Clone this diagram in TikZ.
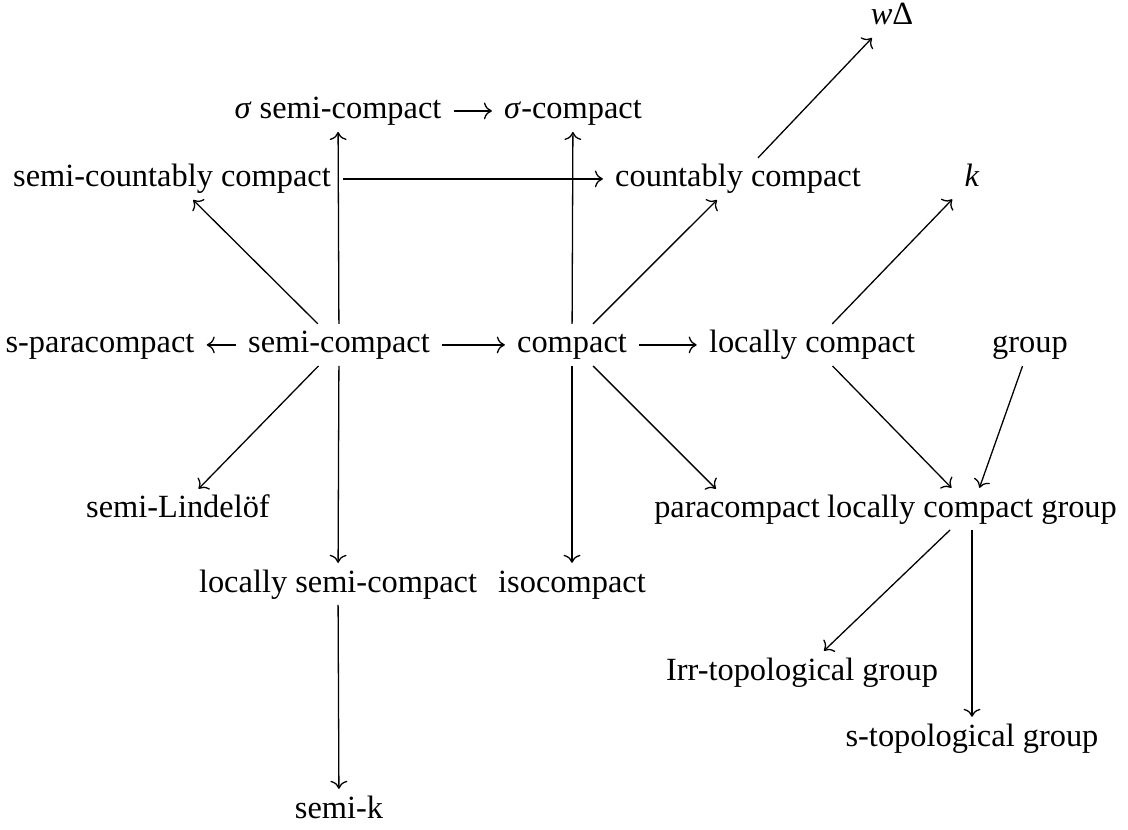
\documentclass[tikz,border=0pt]{standalone}
\usepackage{fontspec}
\setmainfont{Liberation Serif}
\usepackage{tikz}
\usetikzlibrary{arrows.meta}

\begin{document}
\begin{tikzpicture}[x=1.085cm,y=1.085cm,
  cell/.style={anchor=base,inner xsep=3.6pt,inner ysep=1.8pt,text height=7pt,text depth=2pt},
  imp/.style={-{To},thin}]
  \useasboundingbox (0,0) rectangle (11.28,8.29);
  % top rows
  \node[cell] (wD)   at (8.92,8.04) {\textit{w}Δ};
  \node[cell] (ssc)  at (3.38,7.10) {\textit{σ} semi-compact};
  \node[cell] (sc)   at (5.73,7.10) {\textit{σ}-compact};
  \node[cell] (scc)  at (1.72,6.42) {semi-countably compact};
  \node[cell] (cc)   at (7.38,6.42) {countably compact};
  \node[cell] (k)    at (9.72,6.42) {\textit{k}};
  % middle row
  \node[cell] (sp)   at (1.00,4.76) {s-paracompact};
  \node[cell] (semi) at (3.39,4.76) {semi-compact};
  \node[cell] (comp) at (5.72,4.76) {compact};
  \node[cell] (lc)   at (8.12,4.76) {locally compact};
  \node[cell] (grp)  at (10.30,4.76) {group};
  % lower rows
  \node[cell] (semiL) at (1.78,3.11) {semi-Lindelöf};
  \node[cell] (para)  at (7.37,3.11) {paracompact};
  \node[cell] (lcg)   at (9.72,3.12) {locally compact group};
  \node[cell] (lsc)   at (3.38,2.37) {locally semi-compact};
  \node[cell] (iso)   at (5.72,2.37) {isocompact};
  \node[cell] (irr)   at (8.02,1.49) {Irr-topological group};
  \node[cell] (stop)  at (9.72,0.83) {s-topological group};
  \node[cell] (semik) at (3.39,0.11) {semi-k};
  % implications
  \foreach \a/\b in {cc/wD,semi/ssc,ssc/sc,comp/sc,scc/cc,semi/scc,comp/cc,lc/k,
    semi/sp,semi/comp,comp/lc,semi/semiL,semi/lsc,comp/iso,comp/para,
    lc/lcg,grp/lcg,lsc/semik,lcg/irr,lcg/stop}
    \draw[imp] (\a) -- (\b);
\end{tikzpicture}
\end{document}
